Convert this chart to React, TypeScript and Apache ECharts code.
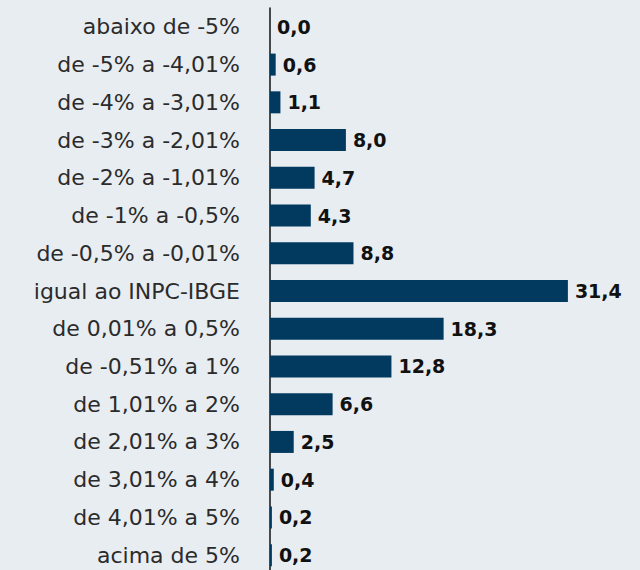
import React, { useEffect, useRef } from "react";
import * as echarts from "echarts";

const categories = [
  "abaixo de -5%",
  "de -5% a -4,01%",
  "de -4% a -3,01%",
  "de -3% a -2,01%",
  "de -2% a -1,01%",
  "de -1% a -0,5%",
  "de -0,5% a -0,01%",
  "igual ao INPC-IBGE",
  "de 0,01% a 0,5%",
  "de -0,51% a 1%",
  "de 1,01% a 2%",
  "de 2,01% a 3%",
  "de 3,01% a 4%",
  "de 4,01% a 5%",
  "acima de 5%",
];
const values = [0.0, 0.6, 1.1, 8.0, 4.7, 4.3, 8.8, 31.4, 18.3, 12.8, 6.6, 2.5, 0.4, 0.2, 0.2];

export default function App() {
  const ref = useRef<HTMLDivElement>(null);
  useEffect(() => {
    const chart = echarts.init(ref.current!, null, { renderer: "svg" });
    chart.setOption({
      animation: false,
      backgroundColor: "#e8edf2",
      grid: { left: 270, right: 0, top: 8, bottom: 6, containLabel: false },
      xAxis: {
        type: "value",
        min: 0,
        max: 39,
        show: false,
      },
      yAxis: {
        type: "category",
        inverse: true,
        data: categories,
        axisLine: { show: true, lineStyle: { color: "#111", width: 1.5 } },
        axisTick: { show: false },
        axisLabel: {
          margin: 30,
          fontSize: 22,
          color: "#2b2b2b",
          fontFamily: "DejaVu Sans",
        },
      },
      series: [
        {
          type: "bar",
          data: values,
          barWidth: 22,
          itemStyle: { color: "#023a5f" },
          label: {
            show: true,
            position: "right",
            distance: 7,
            fontSize: 19,
            fontWeight: "bold",
            color: "#111",
            fontFamily: "DejaVu Sans",
            formatter: (p: any) => p.value.toFixed(1).replace(".", ","),
          },
        },
      ],
    });
    return () => chart.dispose();
  }, []);
  return (
    <div
      ref={ref}
      style={{ position: "absolute", left: 0, top: 0, width: 640, height: 580 }}
    />
  );
}
